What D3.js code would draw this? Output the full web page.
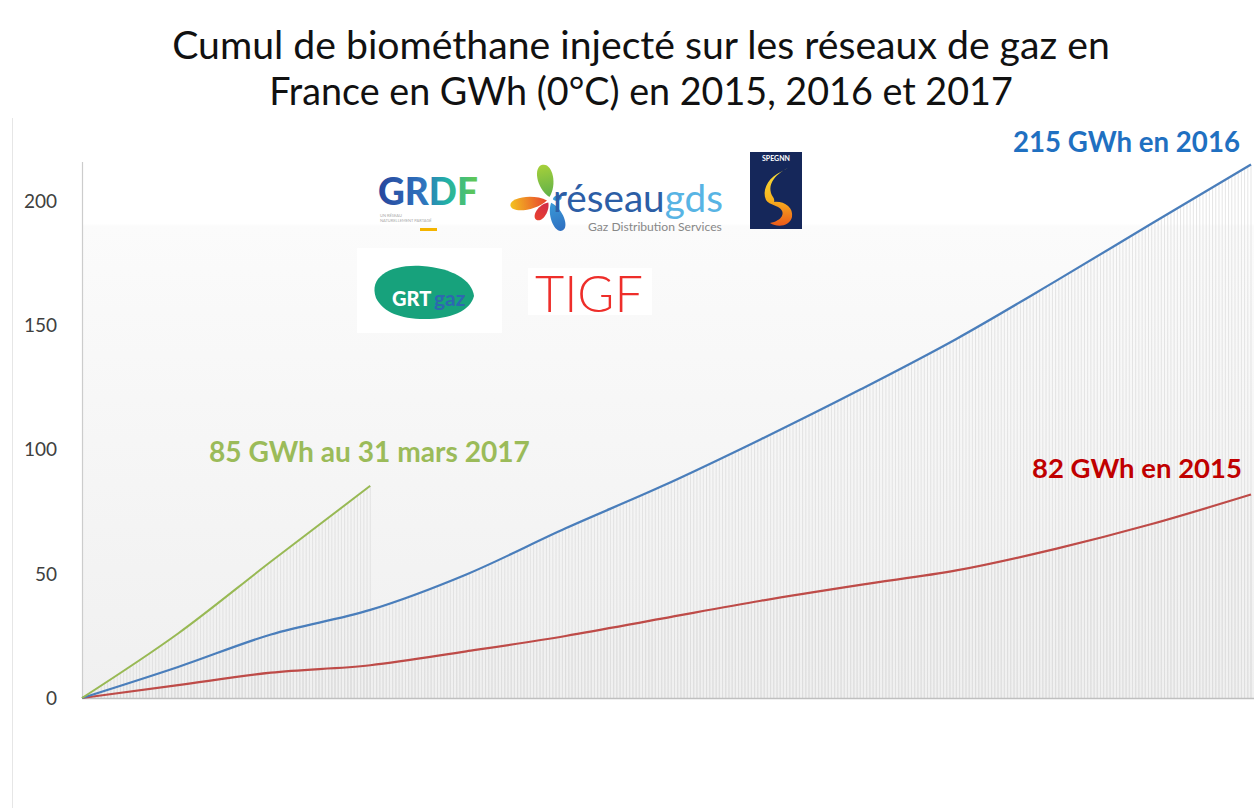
<!DOCTYPE html>
<html>
<head>
<meta charset="utf-8">
<script src="https://cdn.jsdelivr.net/npm/d3@7"></script>
<style>
  body { margin: 0; background: #fff; }
  text { font-family: Lato, "Open Sans", sans-serif; }
</style>
</head>
<body>
<div id="chart"></div>
<script>
// index du jour (0 = 1er janvier), fins de mois
var days = [0, 30, 59, 90, 120, 151, 181, 212, 243, 273, 304, 334, 365];
var days2017 = [0, 30, 59, 90];

// cumul GWh
var cumul2015 = [0, 5.2, 10.2, 13.2, 18.8, 25, 32, 39.2, 45.6, 51.4, 60.1, 70.1, 82];
var cumul2016 = [0, 12.5, 25.6, 35.5, 49.8, 68.4, 85.3, 104.3, 124.3, 144.7, 168, 191.2, 215];
var cumul2017 = [0, 26, 55, 85.5];

var yTicks = [0, 50, 100, 150, 200];

var titleLines = ["Cumul de biométhane injecté sur les réseaux de gaz en",
                  "France en GWh (0°C) en 2015, 2016 et 2017"];

var width = 1258, height = 808;
var plot = { left: 82, right: 1251, top: 162, bottom: 698 };

var svg = d3.select('#chart').append('svg')
    .attr('width', width)
    .attr('height', height);

var defs = svg.append('defs');
var grad = defs.append('linearGradient').attr('id', 'bg').attr('x1', 0).attr('y1', 0).attr('x2', 0).attr('y2', 1);
grad.append('stop').attr('offset', '0%').attr('stop-color', '#ffffff');
grad.append('stop').attr('offset', '11.5%').attr('stop-color', '#ffffff');
grad.append('stop').attr('offset', '12%').attr('stop-color', '#fbfbfb');
grad.append('stop').attr('offset', '100%').attr('stop-color', '#f0f0f0');

var xScale = d3.scaleLinear().domain([0, 365]).range([plot.left, plot.right]);
var yScale = d3.scaleLinear().domain([0, 216]).range([plot.bottom, plot.top]);

// chart border (left edge only visible)
svg.append('line')
    .attr('x1', 12.5).attr('x2', 12.5).attr('y1', 118).attr('y2', height)
    .attr('stroke', '#e6e6e6');

// plot area
svg.append('rect')
    .attr('x', plot.left).attr('y', plot.top)
    .attr('width', plot.right - plot.left + 3).attr('height', plot.bottom - plot.top)
    .attr('fill', 'url(#bg)');

var series = [
    { days: days, values: cumul2015, color: '#be4b48', w: 2.2 },
    { days: days, values: cumul2016, color: '#4a7ebb', w: 2.2 },
    { days: days2017, values: cumul2017, color: '#98b954', w: 2 }
];

var line = d3.line()
    .x(d => xScale(d[0]))
    .y(d => yScale(d[1]))
    .curve(d3.curveMonotoneX);

// drop lines, one per day, up to each series' line
var drops = svg.append('g');
series.forEach(function (s) {
    var lookup = d3.scaleLinear().domain(s.days).range(s.values);
    var allDays = d3.range(0, s.days[s.days.length - 1] + 1);
    drops.selectAll(null)
        .data(allDays)
        .enter().append('line')
        .attr('x1', d => xScale(d)).attr('x2', d => xScale(d))
        .attr('y1', d => yScale(lookup(d)))
        .attr('y2', plot.bottom)
        .attr('stroke', '#dcdcdc')
        .attr('stroke-width', 0.75);
});

// axes
var yAxis = d3.axisLeft(yScale).tickValues(yTicks).tickSize(0).tickPadding(25);
var gy = svg.append('g')
    .attr('transform', 'translate(' + plot.left + ',0)')
    .call(yAxis);
gy.select('.domain').remove();
gy.selectAll('text')
    .style('font-family', 'Lato, sans-serif')
    .style('font-size', '19px')
    .attr('fill', '#404040');

svg.append('line')
    .attr('x1', plot.left + 0.5).attr('x2', plot.left + 0.5)
    .attr('y1', plot.top).attr('y2', plot.bottom)
    .attr('stroke', '#cccccc').attr('stroke-width', 1.2);
svg.append('line')
    .attr('x1', plot.left).attr('x2', plot.right + 3)
    .attr('y1', plot.bottom + 0.5).attr('y2', plot.bottom + 0.5)
    .attr('stroke', '#bfbfbf').attr('stroke-width', 1.5);

// series lines
series.forEach(function (s) {
    svg.append('path')
        .datum(d3.zip(s.days, s.values))
        .attr('d', line)
        .attr('fill', 'none')
        .attr('stroke', s.color)
        .attr('stroke-width', s.w)
        .attr('stroke-linejoin', 'round');
});

function fitText(sel, w) {
    var len = sel.node().getComputedTextLength();
    var fs = parseFloat(sel.style('font-size'));
    sel.style('font-size', (fs * w / len) + 'px');
    return sel;
}

// title
titleLines.forEach(function (t, i) {
    var tt = svg.append('text')
        .attr('x', 641)
        .attr('y', i == 0 ? 59 : 105)
        .attr('text-anchor', 'middle')
        .attr('fill', '#111')
        .style('font-size', '34px')
        .text(t);
    fitText(tt, i == 0 ? 938 : 744);
});

// annotations
var notes = [
    { text: '215 GWh en 2016', x: 1013, y: 152, w: 227, color: '#1f70c1' },
    { text: '82 GWh en 2015', x: 1032, y: 478, w: 210, color: '#c00000' },
    { text: '85 GWh au 31 mars 2017', x: 209, y: 462, w: 321, color: '#9bbb59' }
];
notes.forEach(function (n) {
    var t = svg.append('text')
        .attr('x', n.x).attr('y', n.y)
        .attr('fill', n.color)
        .style('font-weight', 700)
        .style('font-size', '26px')
        .text(n.text);
    fitText(t, n.w);
});

// logos (approximations)
var logos = svg.append('g');

// GRDF
var gGrad = defs.append('linearGradient').attr('id', 'grdf');
gGrad.append('stop').attr('offset', '0%').attr('stop-color', '#27469c');
gGrad.append('stop').attr('offset', '45%').attr('stop-color', '#2f73be');
gGrad.append('stop').attr('offset', '70%').attr('stop-color', '#22b3a4');
gGrad.append('stop').attr('offset', '100%').attr('stop-color', '#66c94e');
var grdf = logos.append('text')
    .attr('x', 378).attr('y', 205)
    .attr('fill', 'url(#grdf)')
    .style('font-weight', 900)
    .style('font-size', '34px')
    .text('GRDF');
fitText(grdf, 100);
logos.append('text').attr('x', 380).attr('y', 217).attr('fill', '#aaa').style('font-size', '4px').text('UN RÉSEAU');
logos.append('text').attr('x', 380).attr('y', 222).attr('fill', '#aaa').style('font-size', '4px').text('NATURELLEMENT PARTAGÉ');
logos.append('rect').attr('x', 420).attr('y', 228).attr('width', 17).attr('height', 3).attr('fill', '#f4b400');

// réseau gds petals
var petals = [
    { rot: -12, len: 36, wd: 11, c: '#a6d03a', c2: '#5fb04a' },
    { rot: -98, len: 40, wd: 9, c: '#f3c21f', c2: '#e8412f' },
    { rot: -145, len: 24, wd: 7, c: '#e8412f', c2: '#d12a4a' },
    { rot: 158, len: 33, wd: 9, c: '#2f6fc0', c2: '#3a9ad8' },
    { rot: 75, len: 12, wd: 4, c: '#3a9ad8', c2: '#3a9ad8' }
];
petals.forEach(function (p, i) {
    var pg = defs.append('linearGradient').attr('id', 'pet' + i).attr('x1', 0).attr('y1', 1).attr('x2', 0).attr('y2', 0);
    pg.append('stop').attr('offset', '0%').attr('stop-color', p.c2);
    pg.append('stop').attr('offset', '100%').attr('stop-color', p.c);
    logos.append('path')
        .attr('transform', 'translate(550,200) rotate(' + p.rot + ')')
        .attr('d', 'M0,-3 C' + p.wd + ',-' + (p.len * 0.4) + ' ' + (p.wd * 0.9) + ',-' + p.len + ' 0,-' + p.len +
            ' C-' + (p.wd * 0.9) + ',-' + p.len + ' -' + p.wd + ',-' + (p.len * 0.4) + ' 0,-3Z')
        .attr('fill', 'url(#pet' + i + ')');
});
var rg = logos.append('text').attr('x', 553).attr('y', 212).style('font-size', '30px');
rg.append('tspan').attr('fill', '#2c5ea6').text('réseau');
rg.append('tspan').attr('fill', '#58b4e4').text('gds');
fitText(rg, 170);
var sub = logos.append('text').attr('x', 588).attr('y', 231).attr('fill', '#888').style('font-size', '8px').text('Gaz Distribution Services');
fitText(sub, 134);

// SPEGNN
logos.append('rect').attr('x', 750).attr('y', 152).attr('width', 52).attr('height', 77).attr('fill', '#15275a');
logos.append('text').attr('x', 776).attr('y', 161).attr('text-anchor', 'middle').attr('fill', '#fff')
    .style('font-size', '7px').style('font-weight', 700).text('SPEGNN');
var fg = defs.append('linearGradient').attr('id', 'flame').attr('x1', 0).attr('y1', 0).attr('x2', 0).attr('y2', 1);
fg.append('stop').attr('offset', '0%').attr('stop-color', '#f7e23a');
fg.append('stop').attr('offset', '55%').attr('stop-color', '#f7b21e');
fg.append('stop').attr('offset', '100%').attr('stop-color', '#ec5a1a');
logos.append('path')
    .attr('d', 'M788,168 C774,175 766,186 773,197 C777,203 771,207 766,200 C762,191 767,180 777,174 Z M769,203 C781,199 794,206 792,217 C790,226 778,228 770,223 C782,221 787,212 778,207 Z')
    .attr('fill', 'url(#flame)');

// GRTgaz
logos.append('rect').attr('x', 357).attr('y', 248).attr('width', 145).attr('height', 85).attr('fill', '#ffffff');
logos.append('path')
    .attr('d', 'M376,298 C368,276 392,264 422,266 C452,268 472,280 474,296 C470,312 448,320 420,319 C396,318 382,310 376,298 Z')
    .attr('fill', '#17a27c');
logos.append('text').attr('x', 392).attr('y', 306).attr('fill', '#fff').style('font-weight', 900).style('font-size', '20px').text('GRT');
logos.append('text').attr('x', 434).attr('y', 306).attr('fill', '#2d68b0').style('font-weight', 700).style('font-size', '21px').text('gaz');

// TIGF
logos.append('rect').attr('x', 528).attr('y', 268).attr('width', 124).attr('height', 47).attr('fill', '#ffffff');
var tigf = logos.append('text').attr('x', 535).attr('y', 312).attr('fill', '#ee2e2a')
    .style('font-size', '54px').style('font-weight', 300).text('TIGF');
fitText(tigf, 108);
</script>
</body>
</html>
